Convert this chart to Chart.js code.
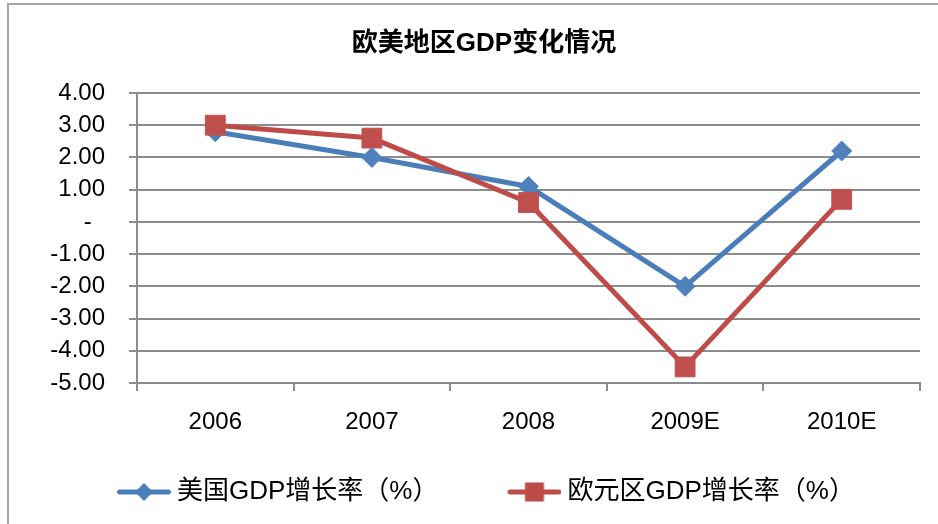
<!DOCTYPE html>
<html>
<head>
<meta charset="utf-8">
<script src="https://cdn.jsdelivr.net/npm/chart.js@4.4.0/dist/chart.umd.min.js"></script>
<style>
    body { margin: 0; background: #fff; }
    #marco { position: absolute; left: 7px; top: 3px; width: 940px; height: 540px;
             border-top: 2px solid #a6a6a6; border-left: 2px solid #a6a6a6; }
    canvas { position: absolute; left: 0; top: 0; }
</style>
</head>
<body>
<div id="marco"></div>
<canvas id="grafico" width="938" height="524"></canvas>
<script>
/* Datos del gráfico */
var titulo = '欧美地区GDP变化情况';
var anios = ['2006', '2007', '2008', '2009E', '2010E'];
var crecimientoEEUU = [2.8, 2.0, 1.1, -2.0, 2.2];
var crecimientoEuro = [3.0, 2.6, 0.6, -4.5, 0.7];
var nombresSeries = ['美国GDP增长率（%）', '欧元区GDP增长率（%）'];

var fuente = "'Liberation Sans', Arial, 'Noto Sans CJK SC', sans-serif";
var gris = '#8c8c8c';
var azul = '#4a7ebb';
var rojo = '#be4b48';

/* Icono de la leyenda: línea con el marcador en medio */
function iconoLeyenda(color, forma) {
    var c = document.createElement('canvas');
    c.width = 120;
    c.height = 32;
    var g = c.getContext('2d');
    g.strokeStyle = color;
    g.lineWidth = 5;
    g.lineCap = 'round';
    g.beginPath();
    g.moveTo(68.5, 16);
    g.lineTo(117.5, 16);
    g.stroke();
    g.fillStyle = color;
    if (forma === 'rombo') {
        g.beginPath();
        g.moveTo(84, 16);
        g.lineTo(93, 7);
        g.lineTo(102, 16);
        g.lineTo(93, 25);
        g.closePath();
        g.fill();
    } else {
        g.fillRect(83.5, 6.5, 19, 19);
    }
    return c;
}
var iconos = [iconoLeyenda(azul, 'rombo'), iconoLeyenda(rojo, 'cuadro')];

var marco = document.getElementById('grafico').getContext('2d');

var grafico = new Chart(marco, {
    type: 'line',
    data: {
        labels: anios,
        datasets: [{
            label: nombresSeries[0],
            data: crecimientoEEUU,
            borderColor: azul,
            backgroundColor: azul,
            borderWidth: 5,
            borderJoinStyle: 'round',
            pointStyle: 'rectRot',
            pointRadius: 10,
            pointBorderWidth: 1,
            pointBackgroundColor: '#4f81bd',
            pointBorderColor: '#4f81bd',
            tension: 0,
            order: 1
        }, {
            label: nombresSeries[1],
            data: crecimientoEuro,
            borderColor: rojo,
            backgroundColor: rojo,
            borderWidth: 5,
            borderJoinStyle: 'round',
            pointStyle: 'rect',
            pointRadius: 14,
            pointBorderWidth: 1,
            pointBackgroundColor: '#c0504d',
            pointBorderColor: '#c0504d',
            tension: 0,
            order: 0
        }]
    },
    options: {
        responsive: false,
        animation: false,
        layout: {
            padding: { left: 48, right: 18, top: 0, bottom: 9 }
        },
        plugins: {
            title: {
                display: true,
                text: titulo,
                color: '#000',
                font: { family: fuente, size: 26, weight: 'bold' },
                padding: { top: 28, bottom: 33.8 }
            },
            legend: {
                position: 'bottom',
                align: 'start',
                labels: {
                    usePointStyle: true,
                    pointStyleWidth: 106,
                    padding: 10,
                    color: '#000',
                    font: { family: fuente, size: 26 },
                    sort: function (a, b) { return a.datasetIndex - b.datasetIndex; },
                    generateLabels: function (chart) {
                        var items = Chart.defaults.plugins.legend.labels.generateLabels(chart);
                        items.forEach(function (it) { it.pointStyle = iconos[it.datasetIndex]; });
                        return items;
                    }
                }
            },
            tooltip: { enabled: false }
        },
        scales: {
            x: {
                offset: true,
                grid: {
                    offset: true,
                    drawOnChartArea: false,
                    drawTicks: true,
                    tickLength: 8,
                    color: gris,
                    lineWidth: 2
                },
                border: { display: true, color: gris, width: 2 },
                ticks: {
                    padding: 17,
                    maxRotation: 0,
                    color: '#000',
                    font: { family: fuente, size: 24 }
                },
                afterFit: function (escala) { escala.height = 86; }
            },
            y: {
                min: -5,
                max: 4,
                grid: { color: gris, lineWidth: 2, tickLength: 8 },
                border: { color: gris, width: 2 },
                ticks: {
                    stepSize: 1,
                    padding: 24,
                    color: '#000',
                    font: { family: fuente, size: 24 },
                    callback: function (v) { return v === 0 ? '-  ' : v.toFixed(2); }
                },
                afterFit: function (escala) { escala.width = 89; }
            }
        }
    }
});
</script>
</body>
</html>
